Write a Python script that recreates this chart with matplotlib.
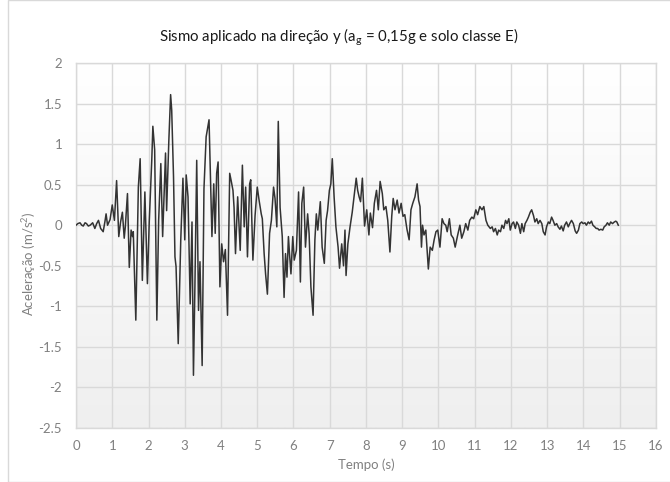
import matplotlib
matplotlib.use("Agg")
import matplotlib.pyplot as plt
import numpy as np

# Acceleration record: time (s) and acceleration (m/s^2)
tempo = [
    0.00, 0.05, 0.11, 0.16, 0.20, 0.25, 0.29, 0.34, 0.39, 0.46, 0.52, 0.57, 0.62, 0.68, 0.75,
    0.80, 0.83, 0.87, 0.94, 1.00, 1.06, 1.12, 1.18, 1.23, 1.28, 1.33, 1.36, 1.42, 1.47, 1.52,
    1.56, 1.58, 1.65, 1.72, 1.77, 1.83, 1.90, 1.97, 2.02, 2.09, 2.12, 2.17, 2.23, 2.28, 2.34,
    2.39, 2.47, 2.50, 2.56, 2.61, 2.64, 2.69, 2.73, 2.76, 2.82, 2.89, 2.95, 3.00, 3.04, 3.09,
    3.15, 3.20, 3.24, 3.28, 3.33, 3.38, 3.42, 3.48, 3.53, 3.59, 3.67, 3.75, 3.80, 3.84, 3.88,
    3.92, 3.97, 4.02, 4.07, 4.12, 4.18, 4.24, 4.28, 4.33, 4.36, 4.40, 4.46, 4.53, 4.59, 4.64,
    4.68, 4.73, 4.79, 4.82, 4.88, 4.94, 5.00, 5.05, 5.11, 5.14, 5.19, 5.23, 5.28, 5.34, 5.39,
    5.45, 5.49, 5.54, 5.58, 5.63, 5.69, 5.74, 5.78, 5.82, 5.86, 5.89, 5.93, 5.98, 6.02, 6.08,
    6.14, 6.19, 6.23, 6.28, 6.33, 6.39, 6.43, 6.48, 6.54, 6.59, 6.63, 6.67, 6.74, 6.79, 6.85,
    6.90, 6.94, 6.99, 7.03, 7.07, 7.12, 7.17, 7.23, 7.27, 7.33, 7.38, 7.42, 7.45, 7.50, 7.56,
    7.62, 7.67, 7.73, 7.77, 7.81, 7.85, 7.90, 7.96, 8.02, 8.08, 8.12, 8.18, 8.23, 8.29, 8.34,
    8.39, 8.45, 8.49, 8.55, 8.60, 8.66, 8.71, 8.75, 8.80, 8.86, 8.91, 8.97, 9.02, 9.07, 9.13,
    9.19, 9.24, 9.29, 9.35, 9.41, 9.45, 9.49, 9.53, 9.56, 9.60, 9.65, 9.72, 9.77, 9.83, 9.88,
    9.93, 9.98, 10.04, 10.10, 10.15, 10.20, 10.24, 10.30, 10.35, 10.41, 10.46, 10.52, 10.59, 10.64, 10.70,
    10.75, 10.81, 10.86, 10.92, 10.97, 11.03, 11.08, 11.14, 11.20, 11.25, 11.31, 11.36, 11.43, 11.48, 11.52,
    11.57, 11.62, 11.66, 11.71, 11.75, 11.80, 11.85, 11.89, 11.94, 11.98, 12.03, 12.07, 12.12, 12.16, 12.21,
    12.26, 12.30, 12.35, 12.39, 12.44, 12.48, 12.53, 12.57, 12.62, 12.66, 12.71, 12.75, 12.80, 12.85, 12.89,
    12.94, 12.98, 13.03, 13.07, 13.12, 13.16, 13.21, 13.26, 13.30, 13.35, 13.39, 13.44, 13.48, 13.53, 13.58,
    13.62, 13.67, 13.72, 13.77, 13.81, 13.86, 13.90, 13.95, 13.99, 14.04, 14.08, 14.13, 14.17, 14.22, 14.26,
    14.31, 14.35, 14.39, 14.43, 14.48, 14.53, 14.57, 14.62, 14.66, 14.71, 14.75, 14.80, 14.85, 14.89, 14.92,
    14.96,
]
aceleracao = [
    0.00, 0.02, 0.03, 0.00, -0.01, 0.03, 0.02, -0.01, 0.00, 0.03, -0.04, 0.02, 0.06, -0.04, -0.08,
    0.05, 0.14, 0.00, 0.07, 0.25, 0.06, 0.55, -0.14, 0.04, 0.16, -0.16, -0.02, 0.39, -0.52, -0.06,
    -0.14, -0.08, -1.17, 0.47, 0.82, -0.68, 0.41, -0.72, 0.04, 0.80, 1.22, 0.93, -1.17, 0.06, 0.76,
    -0.14, 0.89, 0.18, 1.03, 1.61, 1.42, 0.60, -0.39, -0.51, -1.46, -0.18, 0.58, -0.18, 0.62, 0.35,
    -0.97, 0.04, -1.85, -0.76, 0.80, -1.05, -0.45, -1.73, 0.45, 1.09, 1.30, -0.14, 0.51, -0.10, 0.64,
    0.78, -0.76, -0.23, -0.45, -0.30, -1.11, 0.64, 0.55, 0.43, 0.22, -0.35, 0.35, -0.31, 0.74, -0.02,
    0.47, -0.39, 0.51, 0.56, -0.43, 0.12, 0.47, 0.31, 0.14, 0.08, -0.35, -0.60, -0.85, -0.10, 0.06,
    0.47, 0.33, -0.02, 1.28, 0.22, -0.14, -0.89, -0.35, -0.64, -0.14, -0.35, -0.60, -0.14, -0.43, -0.31,
    0.41, -0.70, 0.27, 0.47, -0.27, 0.14, -0.10, -0.76, -1.11, -0.18, 0.14, -0.06, 0.29, -0.27, -0.47,
    0.06, 0.18, 0.43, 0.51, 0.82, 0.35, -0.02, -0.27, -0.53, -0.23, -0.50, -0.06, -0.62, -0.23, -0.02,
    0.16, 0.35, 0.58, 0.43, 0.35, 0.29, 0.58, -0.01, 0.19, -0.12, 0.15, -0.03, 0.27, 0.43, 0.19,
    0.54, 0.39, 0.19, 0.23, 0.06, -0.33, 0.11, 0.33, 0.19, 0.31, 0.15, 0.27, 0.11, 0.13, -0.05,
    -0.18, 0.19, 0.27, 0.35, 0.51, 0.31, 0.23, -0.27, 0.00, -0.12, -0.06, -0.54, -0.27, -0.31, -0.18,
    -0.08, -0.06, -0.27, 0.08, 0.02, 0.00, -0.08, 0.08, -0.12, -0.16, -0.27, -0.14, 0.00, -0.16, -0.08,
    0.02, -0.06, 0.06, 0.10, 0.08, 0.19, 0.13, 0.23, 0.19, 0.23, 0.06, 0.00, -0.04, -0.02, -0.08,
    -0.04, -0.12, -0.06, -0.08, 0.00, -0.04, 0.06, 0.02, 0.08, -0.06, 0.02, 0.04, -0.04, 0.04, 0.00,
    -0.10, 0.02, -0.08, 0.02, 0.06, 0.10, 0.16, 0.19, 0.12, 0.04, 0.08, 0.02, 0.06, 0.02, -0.08,
    -0.12, -0.02, 0.04, 0.02, 0.10, 0.06, 0.00, 0.02, -0.02, -0.05, -0.01, -0.07, 0.00, 0.04, -0.02,
    0.02, 0.06, 0.02, -0.07, -0.10, -0.06, 0.02, 0.04, 0.02, 0.03, 0.00, 0.04, 0.02, 0.05, 0.00,
    -0.02, -0.04, -0.04, -0.06, -0.05, -0.06, -0.02, 0.00, 0.03, 0.00, 0.04, 0.02, 0.04, 0.05, 0.04,
    0.00,
]

x_ticks = list(range(0, 17))
y_ticks = [-2.5, -2, -1.5, -1, -0.5, 0, 0.5, 1, 1.5, 2]
y_ticklabels = ["-2.5", "-2", "-1.5", "-1", "-0.5", "0", "0.5", "1", "1.5", "2"]

titulo = "Sismo aplicado na direção y (a$_\\mathregular{g}$ = 0,15g e solo classe E)"
rotulo_x = "Tempo (s)"
rotulo_y = "Aceleração (m/s$^\\mathregular{2}$)"

plt.rcParams["font.family"] = ["Lato", "DejaVu Sans"]
plt.rcParams["mathtext.fontset"] = "custom"
plt.rcParams["mathtext.rm"] = "Lato"

fig = plt.figure(figsize=(6.70, 4.82), dpi=100)
fig.patch.set_facecolor("white")
# chart-area frame
fig.add_artist(plt.Rectangle((8 / 670, 0.0), 1.0, 1.0, transform=fig.transFigure,
                             fill=False, edgecolor="#d9d9d9", linewidth=1.0))

ax = fig.add_axes([76 / 670, 1 - 428 / 482, (656 - 76) / 670, (428 - 63) / 482])

# soft vertical gradient behind the plot area
grad = np.linspace(1.0, 0.0, 256).reshape(-1, 1)
ax.imshow(grad, extent=[0, 1, 0, 1], transform=ax.transAxes, aspect="auto",
          cmap=matplotlib.colors.LinearSegmentedColormap.from_list("bg", ["#efefef", "#ffffff"]),
          zorder=0, interpolation="bilinear")

ax.plot(tempo, aceleracao, color="#333333", linewidth=1.1, zorder=3)

ax.set_xlim(0, 16)
ax.set_ylim(-2.5, 2)
ax.set_xticks(x_ticks)
ax.set_yticks(y_ticks)
ax.set_yticklabels(y_ticklabels)
ax.grid(True, color="#d9d9d9", linewidth=1.0, zorder=1)
ax.set_axisbelow(True)
for s in ax.spines.values():
    s.set_color("#d9d9d9")
    s.set_linewidth(1.0)
ax.tick_params(axis="both", length=0, colors="#808080", labelsize=9.5, pad=9)
ax.tick_params(axis="y", pad=10)

ax.set_xlabel(rotulo_x, color="#808080", fontsize=9.5, labelpad=4)
ax.set_ylabel(rotulo_y, color="#808080", fontsize=9.5)
ax.yaxis.set_label_coords(-0.066, 0.45)
fig.text(0.5 + 8 / 670 / 2, 1 - 37 / 482, titulo, ha="center", va="center",
         fontsize=10.8, color="#1a1a1a")

fig.savefig("out.png", dpi=100)
